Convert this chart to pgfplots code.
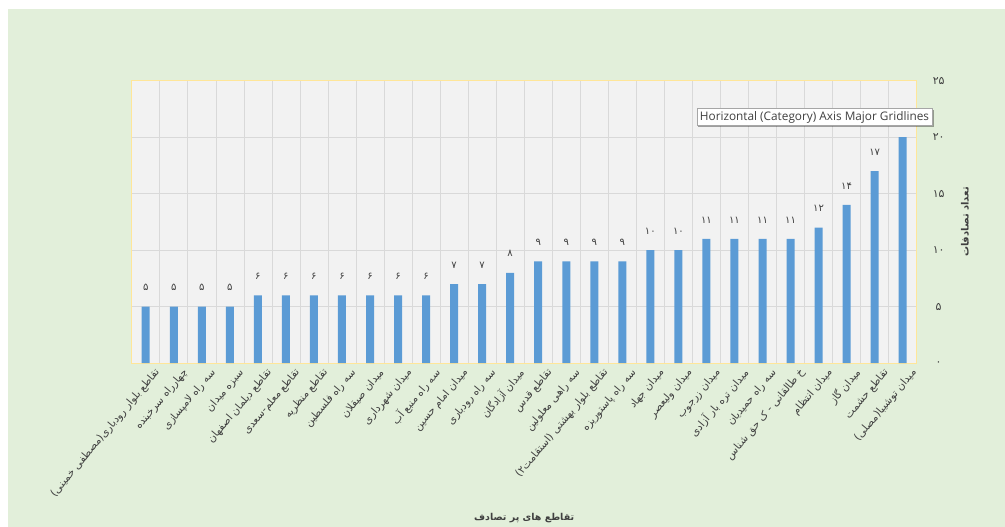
\documentclass[border=0pt]{standalone}
\usepackage{fontspec}
\usepackage{pgfplots}
\pgfplotsset{compat=1.18}
\usetikzlibrary{shadows}
\TeXXeTstate=1
\newfontfamily\arabicfont[Script=Arabic]{DejaVu Sans}
\newfontfamily\digitfont{DejaVu Sans}
\newfontfamily\tipfont{Open Sans}
\newcommand{\fa}[1]{{\arabicfont\beginR #1\endR}}
\definecolor{bg}{HTML}{E2EFDA}
\definecolor{plotbg}{HTML}{F2F2F2}
\definecolor{border}{HTML}{FFE699}
\definecolor{gridc}{HTML}{D9D9D9}
\definecolor{barc}{HTML}{5B9BD5}
\definecolor{labc}{HTML}{404040}
\begin{document}
\begin{tikzpicture}[x=1pt,y=1pt]
\useasboundingbox (0,0) rectangle (1005,527);
\fill[white] (0,0) rectangle (1005,527);
\fill[bg] (8,0) rectangle (1005,518);
\begin{axis}[
  at={(131.7pt,163.8pt)}, anchor=south west,
  scale only axis, width=785pt, height=282.5pt,
  ybar, bar width=8pt,
  xmin=-0.5, xmax=27.5, ymin=0, ymax=25,
  axis background/.style={fill=plotbg},
  axis line style={draw=border, line width=0.9pt},
  xtick={0,...,27},
  xticklabels={
    \fa{تقاطع بلوار رودباری(مصطفی خمینی)},
    \fa{چهارراه سرخبنده},
    \fa{سه راه لامپسازی},
    \fa{سبزه میدان},
    \fa{تقاطع دیلمان اصفهان},
    \fa{تقاطع معلم-سعدی},
    \fa{تقاطع منظریه},
    \fa{سه راه فلسطین},
    \fa{میدان صیقلان},
    \fa{میدان شهرداری},
    \fa{سه راه منبع آب},
    \fa{میدان امام حسین},
    \fa{سه راه رودباری},
    \fa{میدان آزادگان},
    \fa{تقاطع قدس},
    \fa{سه راهی معلولین},
    \fa{تقاطع بلوار بهشتی (استقامت۲)},
    \fa{سه راه پاستوریزه},
    \fa{میدان جهاد},
    \fa{میدان ولیعصر},
    \fa{میدان زرجوب},
    \fa{میدان تره بار آزادی},
    \fa{سه راه حمیدیان},
    \fa{خ طالقانی - ک حق شناس},
    \fa{میدان انتظام},
    \fa{میدان گاز},
    \fa{تقاطع حشمت},
    \fa{میدان توشیبا(مصلی)}
  },
  xticklabel style={rotate=50, anchor=east, font=\fontsize{10.5}{12}\selectfont, text=labc, inner sep=1pt, yshift=-14pt, xshift=3pt},
  minor xtick={-0.5,0.5,...,27.5},
  xminorgrids,
  minor grid style={gridc, line width=0.6pt},
  ytick={0,5,10,15,20,25},
  yticklabels={۰,۵,۱۰,۱۵,۲۰,۲۵},
  yticklabel pos=right,
  yticklabel style={font=\digitfont\fontsize{11}{13}\selectfont, text=labc, anchor=center, xshift=22pt},
  ymajorgrids,
  major grid style={gridc, line width=0.6pt},
  major tick length=0pt, minor tick length=0pt,
  ylabel={{\arabicfont\bfseries\beginR تعداد تصادفات\endR}},
  ylabel style={at={(axis description cs:1.0615,0.5)}, anchor=center, font=\fontsize{10}{12}\selectfont, text=labc},
  xlabel={{\arabicfont\bfseries\beginR تقاطع های پر تصادف\endR}},
  xlabel style={at={(axis description cs:0.5,-0.548)}, anchor=center, font=\fontsize{9.5}{11}\selectfont, text=labc},
  clip=false,
]
\addplot[fill=barc, draw=none, nodes near coords, point meta=explicit symbolic,
  every node near coord/.append style={font=\digitfont\fontsize{10}{11}\selectfont, text=labc, anchor=center, yshift=19pt}]
coordinates {
(0,5)[۵] (1,5)[۵] (2,5)[۵] (3,5)[۵]
(4,6)[۶] (5,6)[۶] (6,6)[۶] (7,6)[۶] (8,6)[۶] (9,6)[۶] (10,6)[۶]
(11,7)[۷] (12,7)[۷] (13,8)[۸]
(14,9)[۹] (15,9)[۹] (16,9)[۹] (17,9)[۹]
(18,10)[۱۰] (19,10)[۱۰]
(20,11)[۱۱] (21,11)[۱۱] (22,11)[۱۱] (23,11)[۱۱]
(24,12)[۱۲] (25,14)[۱۴] (26,17)[۱۷] (27,20)[۲۰]
};
\end{axis}
\node[draw=gray!70, fill=white, drop shadow={shadow xshift=1.5pt, shadow yshift=-1.5pt, opacity=0.35, fill=black},
  inner xsep=3pt, inner ysep=2.5pt, font=\tipfont\fontsize{11.8}{13}\selectfont, text=labc]
  at (814.5,410) {Horizontal (Category) Axis Major Gridlines};
\end{tikzpicture}
\end{document}
